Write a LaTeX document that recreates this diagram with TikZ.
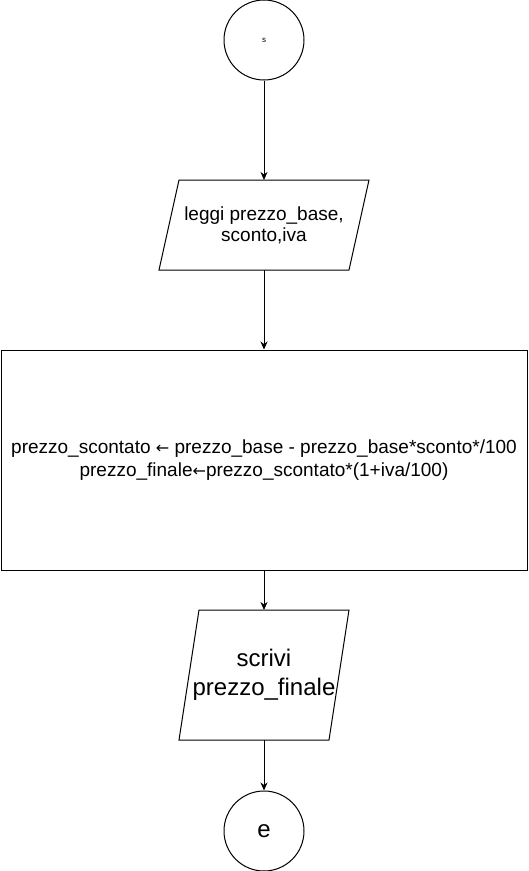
\documentclass[tikz,border=0pt]{standalone}
\usepackage{fontspec}
\setmainfont{Liberation Sans}
\newfontfamily\arrowfont{DejaVu Sans}
\usetikzlibrary{arrows.meta}
\begin{document}
\begin{tikzpicture}[x=1pt,y=-1pt,line width=1pt,
  term/.style={circle,draw,minimum size=80pt,inner sep=0pt},
  iobox/.style={rectangle,minimum width=#1,inner sep=0pt,outer sep=0pt,align=center},
  procbox/.style={rectangle,draw,inner sep=0pt,align=center},
  flow/.style={-{Stealth[length=8pt,width=7pt,inset=2.5pt]}}]
\useasboundingbox (0,0) rectangle (528,871);
\node[term,font=\fontsize{8}{10}\selectfont] (s) at (264,40) {s};
\node[iobox=210pt,minimum height=90pt,font=\fontsize{19}{21}\selectfont] (p1) at (264,225)
  {leggi prezzo\_base,\\sconto,iva};
\draw ([xshift=20pt]p1.north west) -- (p1.north east) -- ([xshift=-20pt]p1.south east) -- (p1.south west) -- cycle;
\node[procbox,minimum width=526pt,minimum height=220pt,font=\fontsize{19}{22.5}\selectfont] (r) at (264,460)
  {prezzo\_scontato\ {\arrowfont\fontsize{16}{22.5}\selectfont ←}\ prezzo\_base - prezzo\_base*sconto*/100\\
   prezzo\_finale{\arrowfont\fontsize{16}{22.5}\selectfont ←}prezzo\_scontato*(1+iva/100)};
\node[iobox=170pt,minimum height=130pt,font=\fontsize{24}{29}\selectfont] (p2) at (264,675)
  {scrivi\\prezzo\_finale};
\draw ([xshift=20pt]p2.north west) -- (p2.north east) -- ([xshift=-20pt]p2.south east) -- (p2.south west) -- cycle;
\node[term,font=\fontsize{24}{29}\selectfont] (e) at (264,831) {e};
\draw[flow] (s) -- (p1);
\draw[flow] (p1) -- (r);
\draw[flow] (r) -- (p2);
\draw[flow] (p2) -- (e);
\end{tikzpicture}
\end{document}
